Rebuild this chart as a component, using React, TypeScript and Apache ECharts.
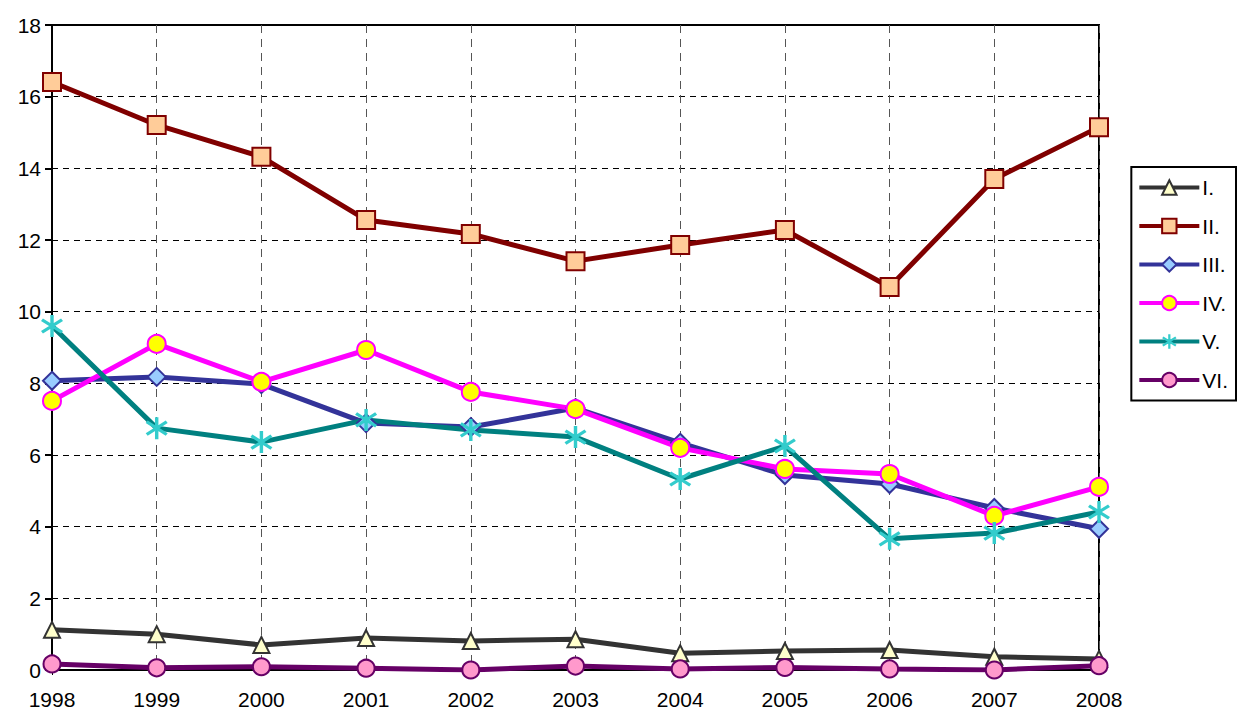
import React, { useEffect, useRef } from "react";
import * as echarts from "echarts";

const years = ["1998", "1999", "2000", "2001", "2002", "2003", "2004", "2005", "2006", "2007", "2008"];
const seriesNames = ["I.", "II.", "III.", "IV.", "V.", "VI."];
const s1 = [1.12, 1.0, 0.7, 0.89, 0.81, 0.86, 0.47, 0.53, 0.56, 0.37, 0.31];
const s2 = [16.41, 15.21, 14.32, 12.56, 12.17, 11.41, 11.86, 12.28, 10.69, 13.7, 15.15];
const s3 = [8.07, 8.18, 7.98, 6.89, 6.78, 7.31, 6.34, 5.44, 5.19, 4.52, 3.94];
const s4 = [7.51, 9.1, 8.04, 8.93, 7.76, 7.28, 6.2, 5.61, 5.47, 4.3, 5.11];
const s5 = [9.6, 6.75, 6.36, 6.98, 6.7, 6.5, 5.33, 6.25, 3.66, 3.82, 4.41];
const s6 = [0.17, 0.06, 0.09, 0.05, 0.0, 0.11, 0.03, 0.07, 0.03, 0.0, 0.12];

function asteriskPath(): string {
  const L = 10;
  const w = 1.4;
  const parts: string[] = [];
  [90, 35, -35].forEach((deg) => {
    const t = (deg * Math.PI) / 180;
    const dx = Math.cos(t), dy = Math.sin(t);
    const nx = -dy, ny = dx;
    const p = [
      [L * dx + w * nx, L * dy + w * ny],
      [L * dx - w * nx, L * dy - w * ny],
      [-L * dx - w * nx, -L * dy - w * ny],
      [-L * dx + w * nx, -L * dy + w * ny],
    ].map(([x, y]) => `${(x + L).toFixed(2)} ${(y + L).toFixed(2)}`);
    parts.push(`M${p[0]} L${p[1]} L${p[2]} L${p[3]} Z`);
  });
  return "path://" + parts.join(" ");
}

const FONT = "'Liberation Sans Narrow', 'Arial Narrow', 'Liberation Sans', sans-serif";

export default function App() {
  const ref = useRef<HTMLDivElement>(null);
  useEffect(() => {
    if (!ref.current) return;
    const chart = echarts.init(ref.current, null, { renderer: "svg" });
    const mk = (
      name: string,
      data: number[],
      color: string,
      symbol: string,
      size: number,
      fill: string,
      stroke: string,
      bw: number
    ) => ({
      name,
      type: "line",
      data,
      symbol,
      symbolSize: size,
      showAllSymbol: true,
      lineStyle: { color, width: 5 },
      itemStyle: { color: fill, borderColor: stroke, borderWidth: bw },
      color,
    });
    chart.setOption({
      animation: false,
      backgroundColor: "#fff",
      grid: {
        left: 52,
        right: 140,
        top: 25,
        bottom: 50,
        show: true,
        borderColor: "#000",
        borderWidth: 2,
        backgroundColor: "transparent",
      },
      legend: {
        orient: "vertical",
        right: 3,
        top: 167,
        padding: [10, 8, 10, 6],
        borderColor: "#000",
        borderWidth: 2,
        itemWidth: 60,
        itemHeight: 18,
        itemGap: 17.5,
        lineStyle: { width: 4 },
        textStyle: { fontSize: 21, fontFamily: FONT, color: "#000", padding: [0, 0, 0, -2] },
        data: seriesNames,
      },
      xAxis: {
        type: "category",
        data: years,
        boundaryGap: false,
        axisLine: { lineStyle: { color: "#000", width: 2 } },
        axisTick: { show: true, length: 5, lineStyle: { color: "#000", width: 1 } },
        axisLabel: { fontSize: 21, fontFamily: FONT, color: "#000", margin: 19 },
        splitLine: { show: true, lineStyle: { color: "#555", type: [8, 6], width: 1 } },
      },
      yAxis: {
        type: "value",
        min: 0,
        max: 18,
        interval: 2,
        axisLine: { show: true, lineStyle: { color: "#000", width: 2 } },
        axisTick: { show: true, length: 7, lineStyle: { color: "#000", width: 2 } },
        axisLabel: { fontSize: 21, fontFamily: FONT, color: "#000", margin: 11 },
        splitLine: { show: true, lineStyle: { color: "#000", type: [6, 5], width: 1 } },
      },
      series: [
        mk(seriesNames[0], s1, "#333333", "triangle", 16, "#FFFFCC", "#333333", 2),
        mk(seriesNames[1], s2, "#800000", "rect", 18, "#FFCC99", "#800000", 2),
        mk(seriesNames[2], s3, "#333399", "diamond", 18, "#99CCFF", "#333399", 2),
        mk(seriesNames[3], s4, "#FF00FF", "circle", 18, "#FFFF00", "#FF00FF", 2),
        mk(seriesNames[4], s5, "#008080", asteriskPath(), 22, "#33CCCC", "#33CCCC", 0),
        mk(seriesNames[5], s6, "#660066", "circle", 17, "#FF99CC", "#660066", 2),
      ],
    });
    return () => chart.dispose();
  }, []);
  return <div ref={ref} style={{ width: 1239, height: 720, position: "absolute", left: 0, top: 0 }} />;
}
